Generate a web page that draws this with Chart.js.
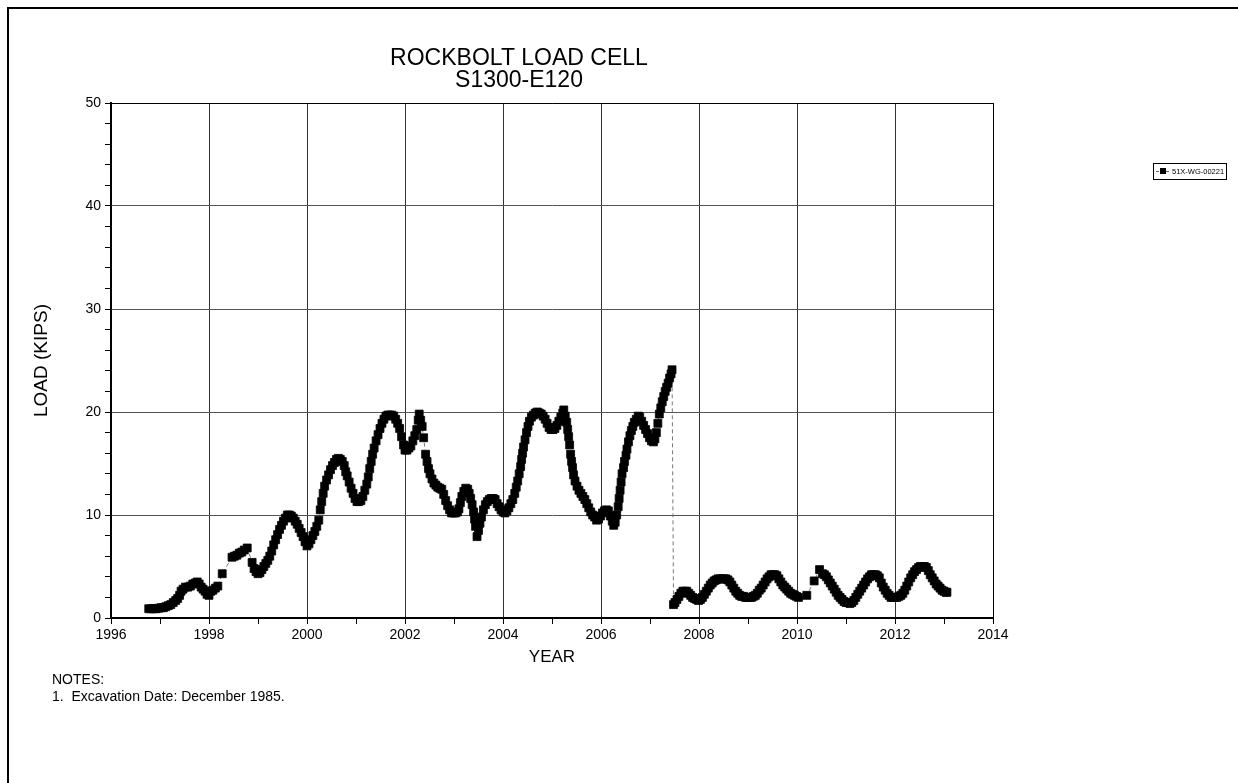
<!DOCTYPE html>
<html>
<head>
<meta charset="utf-8">
<script src="https://cdn.jsdelivr.net/npm/chart.js@4.4.1/dist/chart.umd.min.js"></script>
<style>
html,body{margin:0;padding:0;background:#fff;}
#c{display:block;}
</style>
</head>
<body>
<canvas id="c" width="1238" height="783"></canvas>
<script>
const titleLines = ["ROCKBOLT LOAD CELL", "S1300-E120"];
const xAxisTitle = "YEAR";
const yAxisTitle = "LOAD (KIPS)";
const seriesName = "51X-WG-00221";
const notes = ["NOTES:", "1.  Excavation Date: December 1985."];
const xTickValues = [1996, 1998, 2000, 2002, 2004, 2006, 2008, 2010, 2012, 2014];
const yTickValues = [0, 10, 20, 30, 40, 50];

const years = [
1996.77,1996.82,1996.87,1996.92,1996.97,1997.02,1997.07,1997.12,1997.17,1997.22,
1997.27,1997.32,1997.36,1997.40,1997.43,1997.47,1997.52,1997.57,1997.62,1997.67,
1997.72,1997.76,1997.80,1997.84,1997.88,1997.92,1997.96,1998.00,1998.04,1998.08,
1998.13,1998.18,1998.27,1998.47,1998.52,1998.57,1998.62,1998.67,1998.72,1998.78,
1998.88,1998.92,1998.96,1999.00,1999.04,1999.08,1999.12,1999.16,1999.20,1999.24,
1999.28,1999.32,1999.36,1999.40,1999.44,1999.48,1999.52,1999.56,1999.60,1999.64,
1999.68,1999.72,1999.76,1999.80,1999.84,1999.88,1999.92,1999.96,2000.00,2000.04,
2000.08,2000.12,2000.16,2000.20,2000.24,2000.27,2000.30,2000.33,2000.36,2000.40,
2000.44,2000.48,2000.52,2000.56,2000.60,2000.64,2000.68,2000.72,2000.76,2000.79,
2000.82,2000.86,2000.90,2000.94,2000.98,2001.02,2001.06,2001.10,2001.14,2001.18,
2001.22,2001.25,2001.28,2001.31,2001.34,2001.37,2001.41,2001.45,2001.49,2001.53,
2001.57,2001.61,2001.65,2001.69,2001.73,2001.77,2001.81,2001.85,2001.89,2001.93,
2001.97,2002.00,2002.04,2002.08,2002.12,2002.16,2002.20,2002.24,2002.27,2002.29,
2002.32,2002.35,2002.38,2002.42,2002.45,2002.48,2002.51,2002.55,2002.59,2002.63,
2002.67,2002.71,2002.75,2002.79,2002.83,2002.87,2002.91,2002.95,2002.99,2003.03,
2003.07,2003.10,2003.13,2003.16,2003.20,2003.24,2003.28,2003.31,2003.34,2003.37,
2003.40,2003.42,2003.44,2003.47,2003.50,2003.53,2003.56,2003.60,2003.64,2003.68,
2003.72,2003.76,2003.80,2003.84,2003.88,2003.92,2003.96,2004.00,2004.04,2004.08,
2004.12,2004.16,2004.20,2004.24,2004.27,2004.30,2004.33,2004.36,2004.38,2004.40,
2004.42,2004.45,2004.48,2004.51,2004.54,2004.58,2004.62,2004.66,2004.70,2004.74,
2004.78,2004.82,2004.86,2004.90,2004.94,2004.98,2005.02,2005.06,2005.10,2005.14,
2005.18,2005.22,2005.24,2005.27,2005.30,2005.32,2005.34,2005.36,2005.38,2005.40,
2005.42,2005.44,2005.47,2005.51,2005.55,2005.59,2005.63,2005.67,2005.71,2005.75,
2005.79,2005.83,2005.87,2005.91,2005.95,2005.99,2006.03,2006.07,2006.11,2006.15,
2006.19,2006.23,2006.26,2006.29,2006.32,2006.35,2006.37,2006.39,2006.41,2006.43,
2006.46,2006.48,2006.51,2006.53,2006.56,2006.59,2006.62,2006.65,2006.68,2006.72,
2006.76,2006.79,2006.83,2006.87,2006.91,2006.95,2006.99,2007.03,2007.07,2007.10,
2007.13,2007.16,2007.19,2007.22,2007.25,2007.28,2007.31,2007.34,2007.37,2007.40,
2007.43,2007.45,2007.48,2007.51,2007.55,2007.59,2007.63,2007.67,2007.71,2007.75,
2007.79,2007.83,2007.87,2007.91,2007.95,2007.99,2008.03,2008.07,2008.11,2008.15,
2008.19,2008.23,2008.27,2008.31,2008.35,2008.39,2008.43,2008.47,2008.51,2008.55,
2008.59,2008.63,2008.67,2008.71,2008.75,2008.79,2008.83,2008.87,2008.91,2008.95,
2008.99,2009.03,2009.07,2009.11,2009.15,2009.19,2009.23,2009.27,2009.31,2009.35,
2009.39,2009.43,2009.47,2009.51,2009.55,2009.59,2009.63,2009.67,2009.71,2009.75,
2009.79,2009.83,2009.87,2009.91,2009.95,2009.99,2010.03,2010.20,2010.35,2010.46,
2010.52,2010.56,2010.60,2010.64,2010.68,2010.72,2010.76,2010.80,2010.84,2010.88,
2010.92,2010.96,2011.00,2011.04,2011.08,2011.12,2011.16,2011.20,2011.24,2011.28,
2011.32,2011.36,2011.40,2011.44,2011.48,2011.52,2011.56,2011.60,2011.64,2011.68,
2011.72,2011.76,2011.80,2011.84,2011.88,2011.92,2011.96,2012.00,2012.04,2012.08,
2012.12,2012.16,2012.20,2012.24,2012.28,2012.32,2012.36,2012.40,2012.44,2012.48,
2012.52,2012.56,2012.60,2012.64,2012.68,2012.72,2012.76,2012.80,2012.84,2012.88,
2012.92,2012.96,2013.00,2013.04,2013.06
];
const loads = [
0.9,0.9,0.9,0.9,0.95,1.0,1.0,1.1,1.2,1.3,
1.5,1.7,1.9,2.2,2.6,2.8,3.0,3.0,3.1,3.3,
3.4,3.5,3.3,3.0,2.8,2.6,2.3,2.2,2.6,2.7,
2.9,3.1,4.3,5.9,6.0,6.1,6.3,6.4,6.6,6.8,
5.4,4.8,4.5,4.3,4.4,4.7,5.0,5.3,5.6,6.0,
6.5,7.1,7.6,8.1,8.6,9.0,9.4,9.7,10.0,10.0,
9.9,9.7,9.4,9.1,8.7,8.3,7.9,7.4,7.0,7.2,
7.6,8.0,8.4,8.9,9.5,10.5,11.3,12.1,12.8,13.4,
13.9,14.4,14.8,15.1,15.4,15.5,15.4,15.2,14.8,14.2,
13.8,13.2,12.6,12.1,11.6,11.3,11.3,11.4,11.8,12.4,
13.0,13.7,14.5,15.2,15.9,16.5,17.2,17.8,18.4,18.9,
19.3,19.6,19.7,19.7,19.7,19.6,19.3,18.9,18.4,17.6,
16.8,16.3,16.3,16.5,16.7,17.2,17.7,18.3,19.2,19.8,
19.2,18.6,17.5,15.9,15.2,14.5,14.0,13.5,13.1,12.9,
12.7,12.6,12.5,12.0,11.4,10.9,10.5,10.2,10.2,10.2,
10.3,10.6,11.2,11.8,12.3,12.6,12.5,12.1,11.6,11.0,
10.3,9.6,8.9,7.9,8.5,9.2,9.8,10.5,11.0,11.3,
11.5,11.6,11.6,11.5,11.1,10.8,10.5,10.3,10.2,10.4,
10.7,11.1,11.5,12.1,12.7,13.3,14.0,14.7,15.4,16.0,
16.6,17.3,18.0,18.6,19.1,19.5,19.7,19.9,20.0,19.9,
19.8,19.6,19.3,18.9,18.5,18.3,18.3,18.4,18.7,19.1,
19.5,19.9,20.2,19.6,19.0,18.3,17.6,16.8,15.9,15.2,
14.6,13.9,13.3,12.8,12.4,12.1,11.8,11.5,11.1,10.7,
10.3,10.0,9.8,9.5,9.6,9.9,10.2,10.4,10.5,10.4,
9.9,9.4,9.0,9.3,10.0,10.8,11.6,12.4,13.2,14.0,
14.6,15.2,15.8,16.4,17.1,17.7,18.2,18.6,19.0,19.3,
19.6,19.5,19.1,18.7,18.3,17.9,17.5,17.2,17.1,17.4,
18.0,18.9,19.8,20.4,21.0,21.5,22.0,22.4,22.8,23.3,
23.7,24.1,1.3,1.5,1.8,2.1,2.4,2.6,2.6,2.6,
2.4,2.2,2.0,1.9,1.8,1.7,1.8,2.0,2.3,2.6,
2.9,3.2,3.4,3.6,3.7,3.8,3.8,3.8,3.8,3.8,
3.7,3.5,3.2,2.9,2.6,2.4,2.2,2.1,2.1,2.0,
2.0,2.0,2.0,2.1,2.2,2.4,2.7,2.9,3.2,3.5,
3.8,4.0,4.2,4.2,4.2,4.1,3.8,3.5,3.2,3.0,
2.8,2.6,2.4,2.3,2.2,2.1,2.0,2.2,3.6,4.7,
4.3,4.2,4.0,3.7,3.4,3.1,2.8,2.5,2.2,2.0,
1.8,1.6,1.5,1.5,1.4,1.5,1.7,2.0,2.3,2.6,
2.9,3.2,3.5,3.8,4.0,4.2,4.2,4.2,4.1,3.9,
3.4,3.0,2.7,2.4,2.2,2.0,2.0,2.0,2.0,2.1,
2.2,2.4,2.7,3.1,3.5,3.9,4.2,4.5,4.7,4.9,
5.0,5.0,5.0,4.9,4.6,4.2,3.9,3.6,3.3,3.1,
2.9,2.7,2.6,2.5,2.5
];

const FONT = '"Liberation Sans", Arial, sans-serif';
const points = years.map((x, i) => ({x: x, y: loads[i]}));

const decor = {
  id: 'decor',
  beforeDatasetsDraw(chart) {
    const ctx = chart.ctx, a = chart.chartArea;
    ctx.save();
    ctx.strokeStyle = '#000';
    ctx.lineWidth = 1;
    ctx.beginPath();
    ctx.moveTo(a.left, a.top + 0.5);
    ctx.lineTo(a.right + 0.5, a.top + 0.5);
    ctx.lineTo(a.right + 0.5, a.bottom);
    ctx.stroke();
    ctx.restore();
  },
  afterDraw(chart) {
    const ctx = chart.ctx, a = chart.chartArea;
    ctx.save();
    ctx.strokeStyle = '#000';
    ctx.lineWidth = 2;
    ctx.beginPath();
    ctx.moveTo(8, 783);
    ctx.lineTo(8, 8);
    ctx.lineTo(1238, 8);
    ctx.stroke();

    ctx.fillStyle = '#000';
    ctx.textAlign = 'center';
    ctx.textBaseline = 'middle';
    ctx.font = '23px ' + FONT;
    ctx.fillText(titleLines[0], 519, 59);
    ctx.fillText(titleLines[1], 519, 81);

    ctx.font = '17px ' + FONT;
    ctx.fillText(xAxisTitle, (a.left + a.right) / 2, 657);
    ctx.save();
    ctx.font = '19px ' + FONT;
    ctx.translate(42, (a.top + a.bottom) / 2);
    ctx.rotate(-Math.PI / 2);
    ctx.fillText(yAxisTitle, 0, 0);
    ctx.restore();

    ctx.textAlign = 'left';
    ctx.font = '14px ' + FONT;
    ctx.fillText(notes[0], 52, 680);
    ctx.fillText(notes[1], 52, 697);

    const lx = 1153, ly = 163, lw = 73, lh = 16;
    ctx.lineWidth = 1;
    ctx.strokeStyle = '#000';
    ctx.strokeRect(lx + 0.5, ly + 0.5, lw, lh);
    ctx.strokeStyle = '#666';
    ctx.setLineDash([3, 2]);
    ctx.beginPath();
    ctx.moveTo(lx + 3, ly + 8.5);
    ctx.lineTo(lx + 17, ly + 8.5);
    ctx.stroke();
    ctx.setLineDash([]);
    ctx.fillStyle = '#000';
    ctx.fillRect(lx + 7, ly + 5, 6, 6);
    ctx.font = '7.5px ' + FONT;
    ctx.fillText(seriesName, lx + 19, ly + 9);
    ctx.restore();
  }
};

new Chart(document.getElementById('c'), {
  type: 'scatter',
  data: {
    datasets: [{
      label: seriesName,
      data: points,
      showLine: true,
      borderColor: '#777',
      borderWidth: 1,
      borderDash: [4, 3],
      pointStyle: 'rect',
      pointRadius: 5.6,
      pointBorderWidth: 0.8,
      pointBackgroundColor: '#000',
      pointBorderColor: '#000',
      pointHoverRadius: 5.6
    }]
  },
  options: {
    responsive: false,
    animation: false,
    events: [],
    layout: {padding: {left: 0, top: 103, right: 245, bottom: 0}},
    plugins: {legend: {display: false}, title: {display: false}, tooltip: {enabled: false}},
    scales: {
      x: {
        type: 'linear',
        min: xTickValues[0],
        max: xTickValues[xTickValues.length - 1],
        afterFit(s) { s.height = 165; },
        afterBuildTicks(s) {
          const t = [];
          for (let v = s.min; v <= s.max; v++) t.push({value: v});
          s.ticks = t;
        },
        ticks: {
          autoSkip: false,
          maxRotation: 0,
          padding: 3,
          color: '#000',
          font: {family: FONT, size: 14},
          callback: (v) => xTickValues.includes(v) ? String(v) : ''
        },
        grid: {
          color: (c) => (c.tick && xTickValues.includes(c.tick.value)) ? '#333' : 'rgba(0,0,0,0)',
          tickColor: '#000',
          tickLength: 6,
          lineWidth: 1
        },
        border: {display: true, color: '#000', width: 2}
      },
      y: {
        type: 'linear',
        min: yTickValues[0],
        max: yTickValues[yTickValues.length - 1],
        afterFit(s) { s.width = 111; },
        afterBuildTicks(s) {
          const t = [];
          for (let v = s.min; v <= s.max; v += 2) t.push({value: v});
          s.ticks = t;
        },
        ticks: {
          autoSkip: false,
          padding: 4,
          color: '#000',
          font: {family: FONT, size: 14},
          callback: (v) => yTickValues.includes(v) ? String(v) : ''
        },
        grid: {
          color: (c) => (c.tick && yTickValues.includes(c.tick.value)) ? '#555' : 'rgba(0,0,0,0)',
          tickColor: '#000',
          tickLength: 6,
          lineWidth: 1
        },
        border: {display: true, color: '#000', width: 2}
      }
    }
  },
  plugins: [decor]
});
</script>
</body>
</html>
